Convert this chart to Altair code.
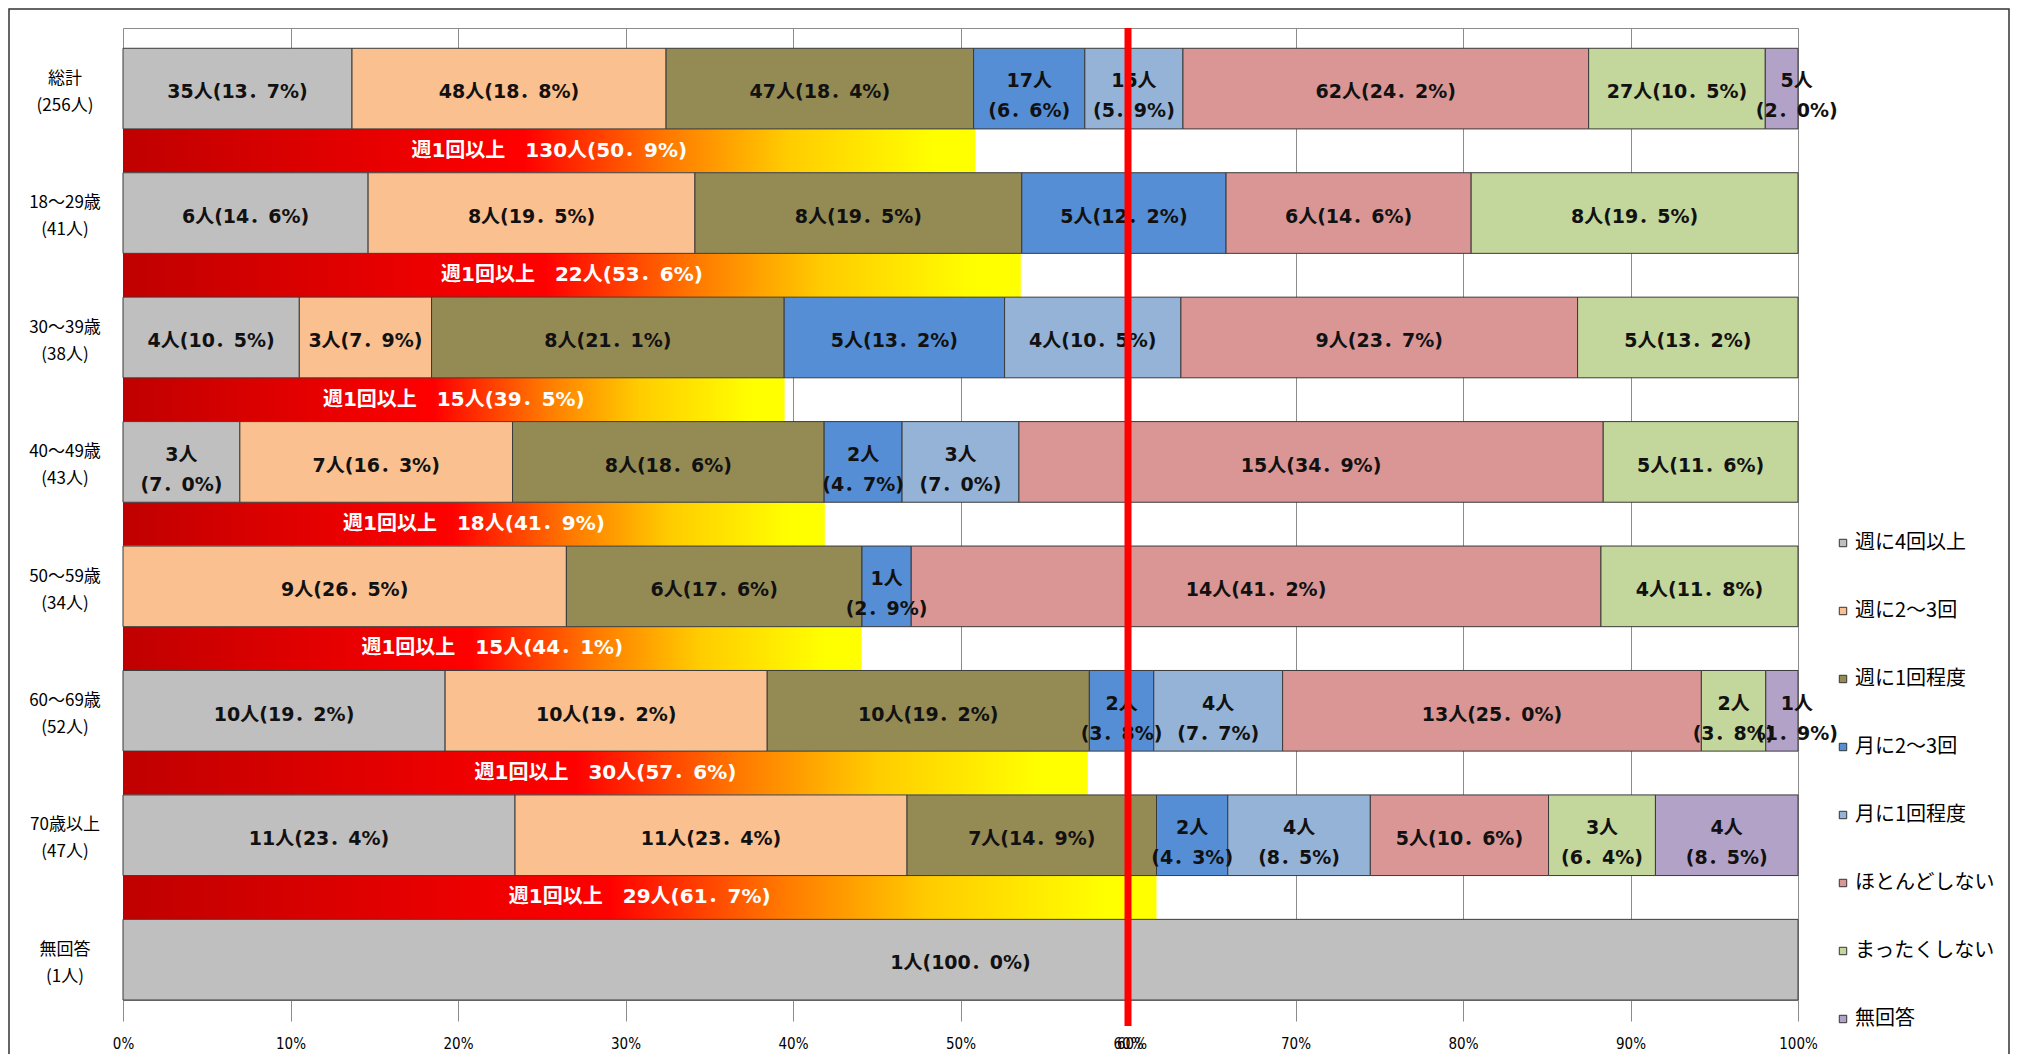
import altair as alt
import pandas as pd

# ---- data ----
rows = ["総計", "18～29歳", "30～39歳", "40～49歳", "50～59歳", "60～69歳", "70歳以上", "無回答"]
totals = [256, 41, 38, 43, 34, 52, 47, 1]

categories = ["週に4回以上", "週に2～3回", "週に1回程度", "月に2～3回",
              "月に1回程度", "ほとんどしない", "まったくしない", "無回答"]
colors = ["#BFBFBF", "#FAC090", "#948A54", "#558ED5",
          "#95B3D7", "#D99694", "#C3D69B", "#B3A2C7"]

# counts per response category (one value per row)
n_w4 = [35, 6, 4, 3, 0, 10, 11, 1]
n_w23 = [48, 8, 3, 7, 9, 10, 11, 0]
n_w1 = [47, 8, 8, 8, 6, 10, 7, 0]
n_m23 = [17, 5, 5, 2, 1, 2, 2, 0]
n_m1 = [15, 0, 4, 3, 0, 4, 4, 0]
n_hardly = [62, 6, 9, 15, 14, 13, 5, 0]
n_never = [27, 8, 5, 5, 4, 2, 3, 0]
n_noans = [5, 0, 0, 0, 0, 1, 4, 0]

# percentages as printed in the labels
p_w4 = [13.7, 14.6, 10.5, 7.0, 0, 19.2, 23.4, 100.0]
p_w23 = [18.8, 19.5, 7.9, 16.3, 26.5, 19.2, 23.4, 0]
p_w1 = [18.4, 19.5, 21.1, 18.6, 17.6, 19.2, 14.9, 0]
p_m23 = [6.6, 12.2, 13.2, 4.7, 2.9, 3.8, 4.3, 0]
p_m1 = [5.9, 0, 10.5, 7.0, 0, 7.7, 8.5, 0]
p_hardly = [24.2, 14.6, 23.7, 34.9, 41.2, 25.0, 10.6, 0]
p_never = [10.5, 19.5, 13.2, 11.6, 11.8, 3.8, 6.4, 0]
p_noans = [2.0, 0, 0, 0, 0, 1.9, 8.5, 0]

# "週1回以上" summary bars
weekly_n = [130, 22, 15, 18, 15, 30, 29]
weekly_p = [50.9, 53.6, 39.5, 41.9, 44.1, 57.6, 61.7]

target_line = [60]

counts = [n_w4, n_w23, n_w1, n_m23, n_m1, n_hardly, n_never, n_noans]
pcts = [p_w4, p_w23, p_w1, p_m23, p_m1, p_hardly, p_never, p_noans]

# ---- layout (row pitch units) ----
PITCH = 124.5          # px per row pitch
MAIN = 0.648
GRAD = 0.35
NO_WRAP = {(2, 1)}
SEG_LH = 30            # line height of segment labels (px)
ROW_LH = 27            # line height of row labels (px)

W, H = 1675, 972


def fmt(p):
    return f"{p:.1f}".replace(".", "．")


seg = []
for i, row in enumerate(rows):
    total = totals[i]
    cum = 0
    for j, cat in enumerate(categories):
        c = counts[j][i]
        if c == 0:
            continue
        start = cum / total * 100
        cum += c
        end = cum / total * 100
        p = pcts[j][i]
        wrap = p < 9 and (i, j) not in NO_WRAP
        label = f"{c}人\n({fmt(p)}%)" if wrap else f"{c}人({fmt(p)}%)"
        shift = (SEG_LH / 2 - 4) / PITCH if wrap else 0
        nudge = 0.9 if (end >= 99.9 and end - start < 2.5) else 0.0
        seg.append(dict(row=row, cat=cat, x0=start, x1=end, xm=(start + end) / 2 + nudge,
                        y0=i, y1=i + MAIN, ym=i + MAIN / 2 + 0.03 - shift, label=label))
seg = pd.DataFrame(seg)

grad = []
for i, (n, p) in enumerate(zip(weekly_n, weekly_p)):
    grad.append(dict(x0=0, x1=p, xm=p / 2, y0=i + MAIN, y1=i + MAIN + GRAD,
                     ym=i + MAIN + GRAD / 2, label=f"週1回以上　{n}人({fmt(p)}%)"))
grad = pd.DataFrame(grad)

ylab = pd.DataFrame(dict(label=[f"{r}\n({t}人)" for r, t in zip(rows, totals)],
                         y=[i + MAIN / 2 + 0.03 - (ROW_LH / 2) / PITCH for i in range(len(rows))]))

xs = alt.Scale(domain=[0, 100], nice=False, zero=False)
ys = alt.Scale(domain=[-0.163, 7.648], reverse=True, nice=False, zero=False)
xaxis = alt.Axis(values=list(range(0, 101, 10)), labelExpr="datum.value + '%'", title=None,
                 grid=True, gridColor="#8C8C8C", gridWidth=1, tickColor="#8C8C8C",
                 tickSize=21, domainColor="#8C8C8C", labelFont="DejaVu Sans Condensed",
                 labelFontSize=15, labelColor="#000000", labelPadding=15,
                 labelFlush=False, labelOverlap=False)


def X(f):
    return alt.X(f, type="quantitative", scale=xs, axis=xaxis)


def Y(f):
    return alt.Y(f, type="quantitative", scale=ys, axis=None)


bars = alt.Chart(seg).mark_rect(stroke="#3A3A3A", strokeWidth=1).encode(
    x=X("x0"), x2="x1", y=Y("y0"), y2="y1",
    color=alt.Color("cat:N", scale=alt.Scale(domain=categories, range=colors),
                    sort=categories,
                    legend=alt.Legend(orient="none", legendX=1710, legendY=505, title=None,
                                      symbolType="square", symbolSize=55,
                                      symbolStrokeColor="#333333", symbolStrokeWidth=1,
                                      labelFont="Noto Sans CJK JP", labelFontSize=20,
                                      labelColor="#000000", rowPadding=48, labelOffset=2,
                                      padding=0, labelLimit=300)),
)

seg_text = alt.Chart(seg).mark_text(
    font="DejaVu Sans, Noto Sans CJK JP", fontSize=19, fontWeight="bold", color="#111111",
    lineBreak="\n", lineHeight=SEG_LH, baseline="middle", align="center"
).encode(x=X("xm"), y=Y("ym"), text="label:N")

grad_bars = alt.Chart(grad).mark_rect(
    color=alt.Gradient(gradient="linear", x1=0, x2=1, y1=0, y2=0, stops=[
        alt.GradientStop(color="#C00000", offset=0),
        alt.GradientStop(color="#FF0000", offset=0.47),
        alt.GradientStop(color="#FF7A00", offset=0.64),
        alt.GradientStop(color="#FFCC00", offset=0.78),
        alt.GradientStop(color="#FFFF00", offset=0.95),
        alt.GradientStop(color="#FFFF00", offset=1),
    ])
).encode(x=X("x0"), x2="x1", y=Y("y0"), y2="y1")

grad_text = alt.Chart(grad).mark_text(
    font="DejaVu Sans, Noto Sans CJK JP", fontSize=20, fontWeight="bold", color="#FFFFFF",
    baseline="middle", align="center"
).encode(x=X("xm"), y=Y("ym"), text="label:N")

row_text = alt.Chart(ylab).mark_text(
    font="Noto Sans CJK JP", fontSize=17, color="#000000", lineBreak="\n", lineHeight=ROW_LH,
    baseline="middle", align="center"
).encode(x=alt.value(-58), y=Y("y"), text="label:N")

red = alt.Chart(pd.DataFrame({"x": target_line})).mark_rule(color="#FF0000", strokeWidth=7).encode(
    x=X("x"), y=alt.value(0), y2=alt.value(H + 26))

red_lab = alt.Chart(pd.DataFrame({"x": target_line})).mark_text(
    font="DejaVu Sans Condensed", fontSize=15, color="#000000", dx=4, baseline="top"
).encode(x=X("x"), y=alt.value(H + 37), text=alt.value("60%"))

frame = alt.Chart(pd.DataFrame({"a": [0]})).mark_rect(
    filled=False, stroke="#333333", strokeWidth=1.5
).encode(x=alt.value(-114), x2=alt.value(1886), y=alt.value(-19), y2=alt.value(1200))

chart = alt.layer(grad_bars, bars, seg_text, grad_text, row_text, red, red_lab, frame).properties(
    width=W, height=H,
    padding={"left": 115, "top": 20, "right": 212, "bottom": 54},
    autosize=alt.AutoSizeParams(type="none"),
).configure_view(stroke="#8C8C8C", strokeWidth=1)

chart.save("out.html", embed_options={"renderer": "svg", "actions": False})
